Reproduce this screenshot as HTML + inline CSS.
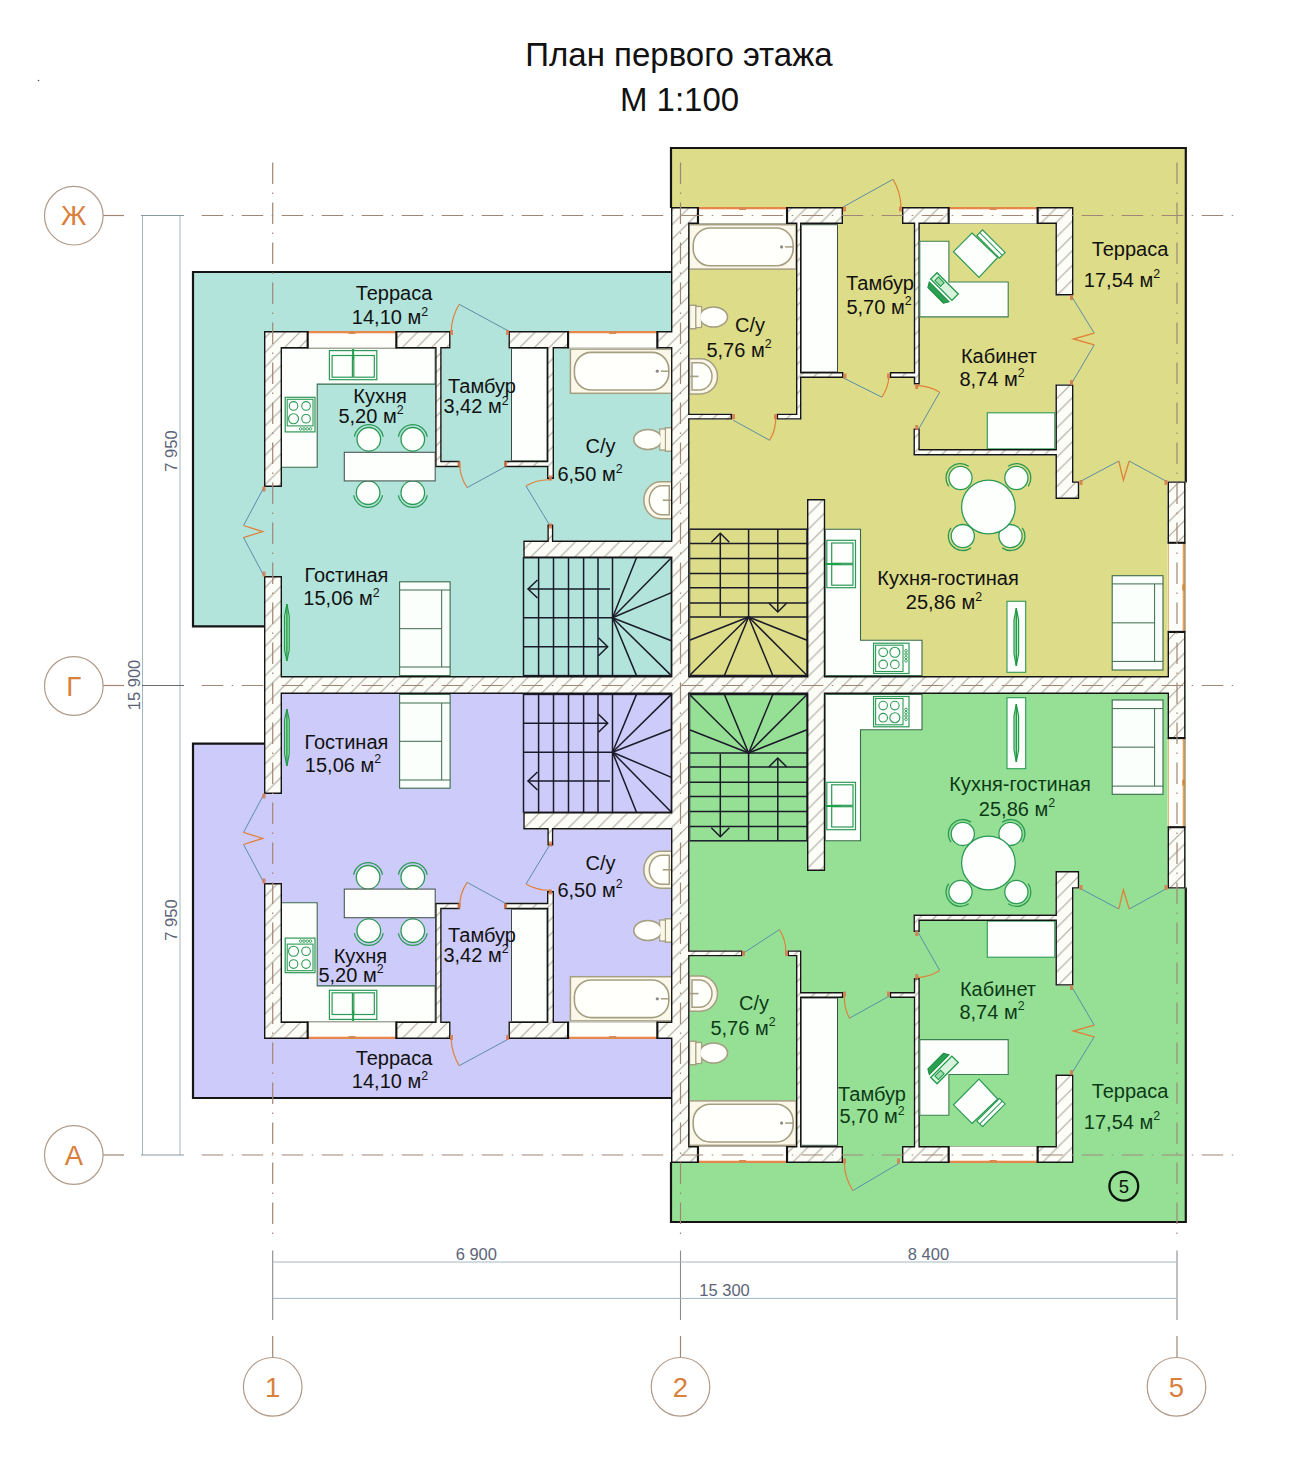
<!DOCTYPE html>
<html><head><meta charset="utf-8"><title>План первого этажа</title>
<style>
html,body{margin:0;padding:0;background:#fff;}
body{width:1289px;height:1461px;position:relative;overflow:hidden;font-family:"Liberation Sans",sans-serif;}
svg text{font-family:"Liberation Sans",sans-serif;}
</style></head><body>
<svg width="1289" height="1461" viewBox="0 0 1289 1461" style="position:absolute;left:0;top:0">
<defs>
<pattern id="hatch" patternUnits="userSpaceOnUse" width="14.7" height="14.7"><path d="M-2,16.7 L16.7,-2 M-2,2 L2,-2 M12.7,16.7 L16.7,12.7" stroke="#aaa69a" stroke-width="1.1" fill="none"/></pattern>
<clipPath id="wallclip"><rect x="264" y="331" width="18" height="156" /><rect x="264" y="576" width="18" height="110" /><rect x="264" y="331" width="44" height="17.5" /><rect x="396" y="331" width="54.5" height="17.5" /><rect x="508.5" y="331" width="59.9" height="17.5" /><rect x="657" y="331" width="15" height="17.5" /><rect x="435.2" y="348.5" width="6.4" height="118.7" /><rect x="435.2" y="460.8" width="24.5" height="6.4" /><rect x="504.5" y="460.8" width="49.5" height="6.4" /><rect x="547" y="348.5" width="7" height="130.5" /><rect x="547.4" y="524.5" width="5.9" height="16.5" /><rect x="523.3" y="540.5" width="148.7" height="17.5" /><rect x="671" y="207" width="18.5" height="479" /><rect x="264" y="676" width="921.5" height="10" /><rect x="671" y="207" width="27.3" height="17" /><rect x="786.7" y="207" width="56.3" height="17" /><rect x="902" y="207" width="47" height="17" /><rect x="1037.3" y="207" width="36.1" height="17" /><rect x="1055.5" y="207" width="17.9" height="88.5" /><rect x="1055.5" y="384.4" width="17.9" height="114.6" /><rect x="1055.5" y="481.4" width="23.7" height="17.6" /><rect x="1167.6" y="481.4" width="17.9" height="61.7" /><rect x="1167.6" y="631.6" width="17.9" height="54.4" /><rect x="796" y="224" width="5.4" height="195.6" /><rect x="801.2" y="372" width="42.2" height="6" /><rect x="889.8" y="372" width="30" height="6" /><rect x="913.5" y="449" width="142.5" height="6.4" /><rect x="807" y="499" width="18.2" height="187" /><rect x="264" y="883" width="18" height="156" /><rect x="264" y="684" width="18" height="110" /><rect x="264" y="1021.5" width="44" height="17.5" /><rect x="396" y="1021.5" width="54.5" height="17.5" /><rect x="508.5" y="1021.5" width="59.9" height="17.5" /><rect x="657" y="1021.5" width="15" height="17.5" /><rect x="435.2" y="902.8" width="6.4" height="118.7" /><rect x="435.2" y="902.8" width="24.5" height="6.4" /><rect x="504.5" y="902.8" width="49.5" height="6.4" /><rect x="547" y="891" width="7" height="130.5" /><rect x="547.4" y="829" width="5.9" height="16.5" /><rect x="523.3" y="812" width="148.7" height="17.5" /><rect x="671" y="684" width="18.5" height="479" /><rect x="264" y="684" width="921.5" height="10" /><rect x="671" y="1146" width="27.3" height="17" /><rect x="786.7" y="1146" width="56.3" height="17" /><rect x="902" y="1146" width="47" height="17" /><rect x="1037.3" y="1146" width="36.1" height="17" /><rect x="1055.5" y="1074.5" width="17.9" height="88.5" /><rect x="1055.5" y="871" width="17.9" height="114.6" /><rect x="1055.5" y="871" width="23.7" height="17.6" /><rect x="1167.6" y="826.9" width="17.9" height="61.7" /><rect x="1167.6" y="684" width="17.9" height="54.4" /><rect x="796" y="950.4" width="5.4" height="195.6" /><rect x="801.2" y="992" width="42.2" height="6" /><rect x="889.8" y="992" width="30" height="6" /><rect x="913.5" y="914.6" width="142.5" height="6.4" /><rect x="807" y="684" width="18.2" height="187" /><rect x="689" y="413.7" width="43.1" height="5.9" /><rect x="776.7" y="413.7" width="24.7" height="5.9" /><rect x="913.8" y="224" width="6" height="160.4" /><rect x="913.5" y="428.5" width="6.3" height="26.9" /><rect x="689" y="950.4" width="53.5" height="5.9" /><rect x="787.5" y="950.4" width="13.9" height="5.9" /><rect x="913.8" y="978.1" width="6" height="167.9" /><rect x="913.5" y="914.6" width="6.3" height="17.4" /></clipPath>
</defs>
<polygon points="193,272 671,272 671,686 264,686 264,626.4 193,626.4" fill="#b2e4db" />
<polygon points="193,1098 671,1098 671,684 264,684 264,743.6 193,743.6" fill="#cdcbfa" />
<polygon points="671,148 1185.8,148 1185.8,686 671,686" fill="#dddc88" />
<polygon points="671,1222 1185.8,1222 1185.8,684 671,684" fill="#96e096" />
<g stroke="#151515" stroke-width="2.2" fill="none" stroke-linecap="square">
<polyline points="264,626.4 193,626.4 193,272 671,272"/>
<polyline points="264,743.6 193,743.6 193,1098.0 671,1098.0"/>
<polyline points="671,207 671,148 1185.8,148 1185.8,481.4"/>
<polyline points="671,1163.0 671,1222.0 1185.8,1222.0 1185.8,888.6"/>
</g>
<g id="ft"><path d="M281.2,348.5 H435.2 V384.1 H317.2 V467.2 H281.2 Z" fill="#fdfffd" stroke="#3a6a4a" stroke-width="1.1"/>
<rect x="329.4" y="350.6" width="47.4" height="29.1" fill="#fdfffd" stroke="#2c9a55" stroke-width="1.2"/><rect x="332.1" y="355.5" width="20.3" height="21.7" fill="none" stroke="#2c9a55" stroke-width="1.2"/><rect x="353.8" y="355.5" width="20.5" height="21.7" fill="none" stroke="#2c9a55" stroke-width="1.2"/><line x1="353.1" y1="347.6" x2="353.1" y2="359.6" stroke="#1fa04a" stroke-width="2"/>
<rect x="285.2" y="397.3" width="29.8" height="34.6" fill="#fdfffd" stroke="#2c9a55" stroke-width="1.2"/><rect x="287.2" y="399.3" width="25.8" height="26.6" fill="none" stroke="#2c9a55" stroke-width="1.1"/><circle cx="293.544" cy="405.95" r="4.3" fill="none" stroke="#2c9a55" stroke-width="1.1"/><circle cx="306.06" cy="405.95" r="4.3" fill="none" stroke="#2c9a55" stroke-width="1.1"/><circle cx="293.544" cy="418.752" r="5" fill="none" stroke="#2c9a55" stroke-width="1.1"/><circle cx="306.06" cy="418.752" r="4.3" fill="none" stroke="#2c9a55" stroke-width="1.1"/><circle cx="300.696" cy="428.9" r="1.3" fill="none" stroke="#2c9a55" stroke-width="0.9"/><circle cx="303.996" cy="428.9" r="1.3" fill="none" stroke="#2c9a55" stroke-width="0.9"/><circle cx="307.296" cy="428.9" r="1.3" fill="none" stroke="#2c9a55" stroke-width="0.9"/><circle cx="310.596" cy="428.9" r="1.3" fill="none" stroke="#2c9a55" stroke-width="0.9"/>
<circle cx="368.8" cy="439.3" r="11.8" fill="#fdfffd" stroke="#2c9a55" stroke-width="1.3"/><path d="M354.42,436.76 A14.600000000000001,14.600000000000001 0 0 1 383.18,436.76" fill="none" stroke="#2c9a55" stroke-width="1.3"/>
<circle cx="412.8" cy="439.3" r="11.8" fill="#fdfffd" stroke="#2c9a55" stroke-width="1.3"/><path d="M398.42,436.76 A14.600000000000001,14.600000000000001 0 0 1 427.18,436.76" fill="none" stroke="#2c9a55" stroke-width="1.3"/>
<circle cx="368.1" cy="492.7" r="11.8" fill="#fdfffd" stroke="#2c9a55" stroke-width="1.3"/><path d="M382.48,495.24 A14.600000000000001,14.600000000000001 0 0 1 353.72,495.24" fill="none" stroke="#2c9a55" stroke-width="1.3"/>
<circle cx="412.8" cy="492.7" r="11.8" fill="#fdfffd" stroke="#2c9a55" stroke-width="1.3"/><path d="M427.18,495.24 A14.600000000000001,14.600000000000001 0 0 1 398.42,495.24" fill="none" stroke="#2c9a55" stroke-width="1.3"/>
<rect x="344.3" y="452.3" width="90.9" height="28.6" fill="#fdfffd" stroke="#4a5a55" stroke-width="1.1"/>
<rect x="511.5" y="348.5" width="35.5" height="112.3" fill="#fdfffd" stroke="#3a4a45" stroke-width="1"/>
<rect x="570.4" y="349.1" width="101.4" height="44.2" fill="#fbf8ea" stroke="#a59e80" stroke-width="1.5"/><rect x="574.4" y="352.4" width="94.4" height="37.6" rx="16.8" fill="#fffffb" stroke="#a59e80" stroke-width="1.6"/><circle cx="657.3" cy="371.2" r="1.6" fill="#8a8a8a"/><line x1="660.8" y1="371.2" x2="668.8" y2="371.2" stroke="#a59e80" stroke-width="1.5"/>
<rect x="665.3" y="427.8" width="6.5" height="23.4" fill="#fbf8ea" stroke="#a59e80" stroke-width="1.4"/><rect x="659.8" y="429" width="5.5" height="21" fill="#fbf8ea" stroke="#a59e80" stroke-width="1.3"/><ellipse cx="647.8" cy="439.5" rx="14" ry="10" fill="#fffffb" stroke="#a59e80" stroke-width="1.6"/><rect x="660.5" y="430" width="4.1" height="19" fill="#fbf8ea" stroke="none"/>
<path d="M671.8,481.7 L660.8,481.7 A17,18.55 0 0 0 660.8,518.8 L671.8,518.8 Z" fill="#fbf8ea" stroke="#a59e80" stroke-width="1.5"/><path d="M669.3,485.7 L661.8,485.7 A12.5,14.55 0 0 0 661.8,514.8 L669.3,514.8 Z" fill="#fffffb" stroke="#a59e80" stroke-width="1.5"/><line x1="671.8" y1="500.25" x2="662.8" y2="500.25" stroke="#a59e80" stroke-width="1.6"/>
<rect x="399.6" y="581.8" width="50.5" height="93.8" fill="#fbfffb" stroke="#3a6a4a" stroke-width="1.1"/><line x1="441.7" y1="590" x2="441.7" y2="667" stroke="#3a6a4a" stroke-width="1"/><line x1="399.6" y1="590" x2="450.1" y2="590" stroke="#3a6a4a" stroke-width="1"/><line x1="399.6" y1="667" x2="450.1" y2="667" stroke="#3a6a4a" stroke-width="1"/><line x1="399.6" y1="628.7" x2="441.7" y2="628.7" stroke="#3a6a4a" stroke-width="1"/>
<path d="M286.9,604 L289.2,616 L289.2,650 L286.9,661 L284.6,650 L284.6,616 Z" fill="#bfe9c9" stroke="#1f9a45" stroke-width="1.2"/>
<line x1="286.9" y1="604" x2="286.9" y2="661" stroke="#1f9a45" stroke-width="1.4"/>
<g stroke="#1a1a28" stroke-width="1.5" fill="none"><rect x="523.5" y="557.7" width="147.9" height="117.9" /><line x1="538.6" y1="557.7" x2="538.6" y2="675.6" /><line x1="553.5" y1="557.7" x2="553.5" y2="675.6" /><line x1="568.5" y1="557.7" x2="568.5" y2="675.6" /><line x1="583.6" y1="557.7" x2="583.6" y2="675.6" /><line x1="598" y1="557.7" x2="598" y2="675.6" /><line x1="612.5" y1="557.7" x2="612.5" y2="675.6" /><line x1="523.5" y1="617.8" x2="612.5" y2="617.8" /><line x1="612.5" y1="617.8" x2="636.5" y2="557.7" /><line x1="612.5" y1="617.8" x2="671.4" y2="557.7" /><line x1="612.5" y1="617.8" x2="671.4" y2="592.6" /><line x1="612.5" y1="617.8" x2="671.4" y2="640.7" /><line x1="612.5" y1="617.8" x2="671.4" y2="675.6" /><line x1="612.5" y1="617.8" x2="636.5" y2="675.6" /><line x1="528" y1="589" x2="610" y2="589" /><polyline points="537.5,580 528,589 537.5,598"/><line x1="523.5" y1="646.7" x2="607.7" y2="646.7" /><polyline points="598.5,637.7 607.7,646.7 598.5,655.7"/></g>
<rect x="689.2" y="224.7" width="106.9" height="44.4" fill="#fbf8ea" stroke="#a59e80" stroke-width="1.5"/><rect x="693.2" y="228" width="99.9" height="37.8" rx="16.9" fill="#fffffb" stroke="#a59e80" stroke-width="1.6"/><circle cx="781.6" cy="246.9" r="1.6" fill="#8a8a8a"/><line x1="785.1" y1="246.9" x2="793.1" y2="246.9" stroke="#a59e80" stroke-width="1.5"/>
<rect x="801.2" y="224.7" width="36.3" height="147.3" fill="#fdfffd" stroke="#3a4a45" stroke-width="1"/>
<rect x="689.5" y="305.3" width="6.5" height="23.4" fill="#fbf8ea" stroke="#a59e80" stroke-width="1.4"/><rect x="696" y="306.5" width="5.5" height="21" fill="#fbf8ea" stroke="#a59e80" stroke-width="1.3"/><ellipse cx="713.5" cy="317" rx="14" ry="10" fill="#fffffb" stroke="#a59e80" stroke-width="1.6"/><rect x="696.7" y="307.5" width="4.1" height="19" fill="#fbf8ea" stroke="none"/>
<path d="M689.5,358.8 L700.5,358.8 A17,17.6 0 0 1 700.5,394 L689.5,394 Z" fill="#fbf8ea" stroke="#a59e80" stroke-width="1.5"/><path d="M692,362.8 L699.5,362.8 A12.5,13.6 0 0 1 699.5,390 L692,390 Z" fill="#fffffb" stroke="#a59e80" stroke-width="1.5"/><line x1="689.5" y1="376.4" x2="698.5" y2="376.4" stroke="#a59e80" stroke-width="1.6"/>
<rect x="987.3" y="412.8" width="67.5" height="36.1" fill="#fdfffd" stroke="#2c9a55" stroke-width="1.1"/>
<path d="M825.2,529.2 H860.5 V640.2 H922 V675.5 H825.2 Z" fill="#fdfffd" stroke="#3a6a4a" stroke-width="1.1"/>
<rect x="826.8" y="540.3" width="28.7" height="47.4" fill="#fdfffd" stroke="#2c9a55" stroke-width="1.2"/><rect x="831.7" y="543" width="21.3" height="20.3" fill="none" stroke="#2c9a55" stroke-width="1.2"/><rect x="831.7" y="564.7" width="21.3" height="20.5" fill="none" stroke="#2c9a55" stroke-width="1.2"/><line x1="824.8" y1="564" x2="840.8" y2="564" stroke="#1fa04a" stroke-width="2"/>
<rect x="873.6" y="643.2" width="35.4" height="30.3" fill="#fdfffd" stroke="#2c9a55" stroke-width="1.2"/><rect x="875.6" y="645.2" width="27.4" height="26.3" fill="none" stroke="#2c9a55" stroke-width="1.1"/><circle cx="883.158" cy="652.29" r="4.3" fill="none" stroke="#2c9a55" stroke-width="1.1"/><circle cx="894.84" cy="652.29" r="5" fill="none" stroke="#2c9a55" stroke-width="1.1"/><circle cx="883.158" cy="664.41" r="4.3" fill="none" stroke="#2c9a55" stroke-width="1.1"/><circle cx="894.84" cy="664.41" r="4.3" fill="none" stroke="#2c9a55" stroke-width="1.1"/><circle cx="906" cy="650.775" r="1.3" fill="none" stroke="#2c9a55" stroke-width="0.9"/><circle cx="906" cy="654.075" r="1.3" fill="none" stroke="#2c9a55" stroke-width="0.9"/><circle cx="906" cy="657.375" r="1.3" fill="none" stroke="#2c9a55" stroke-width="0.9"/><circle cx="906" cy="660.675" r="1.3" fill="none" stroke="#2c9a55" stroke-width="0.9"/>
<circle cx="960.5" cy="478" r="11.6" fill="#fdfffd" stroke="#2c9a55" stroke-width="1.3"/><path d="M948.70,486.26 A14.399999999999999,14.399999999999999 0 0 1 968.76,466.20" fill="none" stroke="#2c9a55" stroke-width="1.3"/>
<circle cx="1016.4" cy="478" r="11.6" fill="#fdfffd" stroke="#2c9a55" stroke-width="1.3"/><path d="M1008.14,466.20 A14.399999999999999,14.399999999999999 0 0 1 1028.20,486.26" fill="none" stroke="#2c9a55" stroke-width="1.3"/>
<circle cx="962.8" cy="536.1" r="11.6" fill="#fdfffd" stroke="#2c9a55" stroke-width="1.3"/><path d="M971.06,547.90 A14.399999999999999,14.399999999999999 0 0 1 951.00,527.84" fill="none" stroke="#2c9a55" stroke-width="1.3"/>
<circle cx="1010.5" cy="536.1" r="11.6" fill="#fdfffd" stroke="#2c9a55" stroke-width="1.3"/><path d="M1022.30,527.84 A14.399999999999999,14.399999999999999 0 0 1 1002.24,547.90" fill="none" stroke="#2c9a55" stroke-width="1.3"/>
<circle cx="988.4" cy="507" r="26.8" fill="#fdfffd" stroke="#2c9a55" stroke-width="1.3"/>
<rect x="1007" y="601.3" width="18.7" height="71" fill="#fdfffd" stroke="#2c9a55" stroke-width="1.1"/>
<path d="M1016.3,608 L1018.6,620 L1018.6,654 L1016.3,666 L1014,654 L1014,620 Z" fill="#bfe9c9" stroke="#1f9a45" stroke-width="1.2"/>
<line x1="1016.3" y1="608" x2="1016.3" y2="666" stroke="#1f9a45" stroke-width="1.4"/>
<rect x="1112.2" y="575.7" width="50.8" height="94.3" fill="#fbfffb" stroke="#3a6a4a" stroke-width="1.1"/><line x1="1154.6" y1="583.9" x2="1154.6" y2="661.4" stroke="#3a6a4a" stroke-width="1"/><line x1="1112.2" y1="583.9" x2="1163" y2="583.9" stroke="#3a6a4a" stroke-width="1"/><line x1="1112.2" y1="661.4" x2="1163" y2="661.4" stroke="#3a6a4a" stroke-width="1"/><line x1="1112.2" y1="622.85" x2="1154.6" y2="622.85" stroke="#3a6a4a" stroke-width="1"/>
<g stroke="#1a1a28" stroke-width="1.5" fill="none"><rect x="689.5" y="529.2" width="117.5" height="146.3" /><line x1="689.5" y1="543.4" x2="807" y2="543.4" /><line x1="689.5" y1="558.5" x2="807" y2="558.5" /><line x1="689.5" y1="573.6" x2="807" y2="573.6" /><line x1="689.5" y1="587.7" x2="807" y2="587.7" /><line x1="689.5" y1="602.9" x2="807" y2="602.9" /><line x1="689.5" y1="617" x2="807" y2="617" /><line x1="748.6" y1="529.2" x2="748.6" y2="617" /><line x1="748.6" y1="617" x2="689.5" y2="640.2" /><line x1="748.6" y1="617" x2="689.5" y2="675.5" /><line x1="748.6" y1="617" x2="724.4" y2="675.5" /><line x1="748.6" y1="617" x2="772.8" y2="675.5" /><line x1="748.6" y1="617" x2="807" y2="675.5" /><line x1="748.6" y1="617" x2="807" y2="640.2" /><line x1="720.3" y1="616" x2="720.3" y2="533.3" /><polyline points="711.3,542.3 720.3,533.3 729.3,542.3"/><line x1="777.8" y1="529.2" x2="777.8" y2="612" /><polyline points="768.8,603 777.8,612 786.8,603"/></g></g>
<use href="#ft" transform="matrix(1 0 0 -1 0 1370)"/>
<path d="M504.50,467.20 L547.00,467.20 L547.00,479.00 L554.00,479.00 L554.00,467.20 L554.00,460.80 L554.00,348.50 L568.40,348.50 L568.40,331.00 L508.50,331.00 L508.50,348.50 L547.00,348.50 L547.00,460.80 L504.50,460.80 Z M264.00,331.00 L264.00,348.50 L264.00,487.00 L282.00,487.00 L282.00,348.50 L308.00,348.50 L308.00,331.00 L282.00,331.00 Z M435.20,460.80 L435.20,467.20 L441.60,467.20 L459.70,467.20 L459.70,460.80 L441.60,460.80 L441.60,348.50 L450.50,348.50 L450.50,331.00 L396.00,331.00 L396.00,348.50 L435.20,348.50 Z M671.00,558.00 L671.00,676.00 L282.00,676.00 L282.00,576.00 L264.00,576.00 L264.00,676.00 L264.00,684.00 L264.00,686.00 L264.00,694.00 L264.00,794.00 L282.00,794.00 L282.00,694.00 L671.00,694.00 L671.00,812.00 L523.30,812.00 L523.30,829.50 L547.40,829.50 L547.40,845.50 L553.30,845.50 L553.30,829.50 L671.00,829.50 L671.00,1021.50 L657.00,1021.50 L657.00,1039.00 L671.00,1039.00 L671.00,1146.00 L671.00,1163.00 L689.50,1163.00 L698.30,1163.00 L698.30,1146.00 L689.50,1146.00 L689.50,956.30 L742.50,956.30 L742.50,950.40 L689.50,950.40 L689.50,694.00 L807.00,694.00 L807.00,871.00 L825.20,871.00 L825.20,694.00 L1167.60,694.00 L1167.60,738.40 L1185.50,738.40 L1185.50,694.00 L1185.50,686.00 L1185.50,684.00 L1185.50,676.00 L1185.50,631.60 L1167.60,631.60 L1167.60,676.00 L825.20,676.00 L825.20,499.00 L807.00,499.00 L807.00,676.00 L689.50,676.00 L689.50,419.60 L732.10,419.60 L732.10,413.70 L689.50,413.70 L689.50,224.00 L698.30,224.00 L698.30,207.00 L689.50,207.00 L671.00,207.00 L671.00,224.00 L671.00,331.00 L657.00,331.00 L657.00,348.50 L671.00,348.50 L671.00,540.50 L553.30,540.50 L553.30,524.50 L547.40,524.50 L547.40,540.50 L523.30,540.50 L523.30,558.00 Z M435.20,902.80 L435.20,909.20 L435.20,1021.50 L396.00,1021.50 L396.00,1039.00 L450.50,1039.00 L450.50,1021.50 L441.60,1021.50 L441.60,909.20 L459.70,909.20 L459.70,902.80 L441.60,902.80 Z M504.50,909.20 L547.00,909.20 L547.00,1021.50 L508.50,1021.50 L508.50,1039.00 L568.40,1039.00 L568.40,1021.50 L554.00,1021.50 L554.00,909.20 L554.00,902.80 L554.00,891.00 L547.00,891.00 L547.00,902.80 L504.50,902.80 Z M282.00,1021.50 L282.00,883.00 L264.00,883.00 L264.00,1021.50 L264.00,1039.00 L282.00,1039.00 L308.00,1039.00 L308.00,1021.50 Z M786.70,224.00 L796.00,224.00 L796.00,413.70 L776.70,413.70 L776.70,419.60 L796.00,419.60 L801.40,419.60 L801.40,413.70 L801.40,378.00 L843.40,378.00 L843.40,372.00 L801.40,372.00 L801.40,224.00 L843.00,224.00 L843.00,207.00 L786.70,207.00 Z M889.80,378.00 L913.80,378.00 L913.80,384.40 L919.80,384.40 L919.80,378.00 L919.80,372.00 L919.80,224.00 L949.00,224.00 L949.00,207.00 L902.00,207.00 L902.00,224.00 L913.80,224.00 L913.80,372.00 L889.80,372.00 Z M787.50,950.40 L787.50,956.30 L796.00,956.30 L796.00,1146.00 L786.70,1146.00 L786.70,1163.00 L843.00,1163.00 L843.00,1146.00 L801.40,1146.00 L801.40,998.00 L843.40,998.00 L843.40,992.00 L801.40,992.00 L801.40,956.30 L801.40,950.40 L796.00,950.40 Z M889.80,998.00 L913.80,998.00 L913.80,1146.00 L902.00,1146.00 L902.00,1163.00 L949.00,1163.00 L949.00,1146.00 L919.80,1146.00 L919.80,998.00 L919.80,992.00 L919.80,978.10 L913.80,978.10 L913.80,992.00 L889.80,992.00 Z M1073.40,224.00 L1073.40,207.00 L1055.50,207.00 L1037.30,207.00 L1037.30,224.00 L1055.50,224.00 L1055.50,295.50 L1073.40,295.50 Z M913.50,449.00 L913.50,455.40 L919.80,455.40 L1055.50,455.40 L1055.50,481.40 L1055.50,499.00 L1073.40,499.00 L1079.20,499.00 L1079.20,481.40 L1073.40,481.40 L1073.40,384.40 L1055.50,384.40 L1055.50,449.00 L919.80,449.00 L919.80,428.50 L913.50,428.50 Z M1167.60,543.10 L1185.50,543.10 L1185.50,481.40 L1167.60,481.40 Z M1167.60,888.60 L1185.50,888.60 L1185.50,826.90 L1167.60,826.90 Z M913.50,921.00 L913.50,932.00 L919.80,932.00 L919.80,921.00 L1055.50,921.00 L1055.50,985.60 L1073.40,985.60 L1073.40,888.60 L1079.20,888.60 L1079.20,871.00 L1073.40,871.00 L1055.50,871.00 L1055.50,888.60 L1055.50,914.60 L919.80,914.60 L913.50,914.60 Z M1073.40,1163.00 L1073.40,1146.00 L1073.40,1074.50 L1055.50,1074.50 L1055.50,1146.00 L1037.30,1146.00 L1037.30,1163.00 L1055.50,1163.00 Z" fill="#fdfdf8" fill-rule="evenodd"/>
<rect x="0" y="0" width="1289" height="1461" fill="url(#hatch)" clip-path="url(#wallclip)"/>
<path d="M1168.30,887.90 L1184.80,887.90 L1184.80,827.60 L1168.30,827.60 Z M1168.30,542.40 L1184.80,542.40 L1184.80,482.10 L1168.30,482.10 Z M671.70,557.30 L671.70,676.70 L281.30,676.70 L281.30,576.70 L264.70,576.70 L264.70,793.30 L281.30,793.30 L281.30,693.30 L671.70,693.30 L671.70,812.70 L524.00,812.70 L524.00,828.80 L548.10,828.80 L548.10,844.80 L552.60,844.80 L552.60,828.80 L671.70,828.80 L671.70,1022.20 L657.70,1022.20 L657.70,1038.30 L671.70,1038.30 L671.70,1162.30 L697.60,1162.30 L697.60,1146.70 L688.80,1146.70 L688.80,955.60 L741.80,955.60 L741.80,951.10 L688.80,951.10 L688.80,693.30 L807.70,693.30 L807.70,870.30 L824.50,870.30 L824.50,693.30 L1168.30,693.30 L1168.30,737.70 L1184.80,737.70 L1184.80,632.30 L1168.30,632.30 L1168.30,676.70 L824.50,676.70 L824.50,499.70 L807.70,499.70 L807.70,676.70 L688.80,676.70 L688.80,418.90 L731.40,418.90 L731.40,414.40 L688.80,414.40 L688.80,223.30 L697.60,223.30 L697.60,207.70 L671.70,207.70 L671.70,331.70 L657.70,331.70 L657.70,347.80 L671.70,347.80 L671.70,541.20 L552.60,541.20 L552.60,525.20 L548.10,525.20 L548.10,541.20 L524.00,541.20 L524.00,557.30 Z M914.20,931.30 L919.10,931.30 L919.10,920.30 L1056.20,920.30 L1056.20,984.90 L1072.70,984.90 L1072.70,887.90 L1078.50,887.90 L1078.50,871.70 L1056.20,871.70 L1056.20,915.30 L914.20,915.30 Z M914.20,454.70 L1056.20,454.70 L1056.20,498.30 L1078.50,498.30 L1078.50,482.10 L1072.70,482.10 L1072.70,385.10 L1056.20,385.10 L1056.20,449.70 L919.10,449.70 L919.10,429.20 L914.20,429.20 Z M1072.70,1162.30 L1072.70,1075.20 L1056.20,1075.20 L1056.20,1146.70 L1038.00,1146.70 L1038.00,1162.30 Z M1072.70,207.70 L1038.00,207.70 L1038.00,223.30 L1056.20,223.30 L1056.20,294.80 L1072.70,294.80 Z M890.50,997.30 L914.50,997.30 L914.50,1146.70 L902.70,1146.70 L902.70,1162.30 L948.30,1162.30 L948.30,1146.70 L919.10,1146.70 L919.10,978.80 L914.50,978.80 L914.50,992.70 L890.50,992.70 Z M890.50,377.30 L914.50,377.30 L914.50,383.70 L919.10,383.70 L919.10,223.30 L948.30,223.30 L948.30,207.70 L902.70,207.70 L902.70,223.30 L914.50,223.30 L914.50,372.70 L890.50,372.70 Z M788.20,951.10 L788.20,955.60 L796.70,955.60 L796.70,1146.70 L787.40,1146.70 L787.40,1162.30 L842.30,1162.30 L842.30,1146.70 L800.70,1146.70 L800.70,997.30 L842.70,997.30 L842.70,992.70 L800.70,992.70 L800.70,951.10 Z M787.40,223.30 L796.70,223.30 L796.70,414.40 L777.40,414.40 L777.40,418.90 L800.70,418.90 L800.70,377.30 L842.70,377.30 L842.70,372.70 L800.70,372.70 L800.70,223.30 L842.30,223.30 L842.30,207.70 L787.40,207.70 Z M505.20,908.50 L547.70,908.50 L547.70,1022.20 L509.20,1022.20 L509.20,1038.30 L567.70,1038.30 L567.70,1022.20 L553.30,1022.20 L553.30,891.70 L547.70,891.70 L547.70,903.50 L505.20,903.50 Z M505.20,466.50 L547.70,466.50 L547.70,478.30 L553.30,478.30 L553.30,347.80 L567.70,347.80 L567.70,331.70 L509.20,331.70 L509.20,347.80 L547.70,347.80 L547.70,461.50 L505.20,461.50 Z M435.90,903.50 L435.90,1022.20 L396.70,1022.20 L396.70,1038.30 L449.80,1038.30 L449.80,1022.20 L440.90,1022.20 L440.90,908.50 L459.00,908.50 L459.00,903.50 Z M435.90,466.50 L459.00,466.50 L459.00,461.50 L440.90,461.50 L440.90,347.80 L449.80,347.80 L449.80,331.70 L396.70,331.70 L396.70,347.80 L435.90,347.80 Z M264.70,331.70 L264.70,486.30 L281.30,486.30 L281.30,347.80 L307.30,347.80 L307.30,331.70 Z M281.30,1022.20 L281.30,883.70 L264.70,883.70 L264.70,1038.30 L307.30,1038.30 L307.30,1022.20 Z" fill="none" stroke="#151515" stroke-width="1.4" stroke-linejoin="miter"/>
<rect x="308" y="331" width="88" height="17.5" fill="#fefefa"/>
<line x1="308" y1="332.2" x2="396" y2="332.2" stroke="#e8874a" stroke-width="2.2"/>
<line x1="308" y1="348.0" x2="396" y2="348.0" stroke="#9a9a8a" stroke-width="0.8"/>
<rect x="348.5" y="331" width="7" height="3" fill="#d88a50"/>
<line x1="308" y1="331" x2="308" y2="348.5" stroke="#151515" stroke-width="1.5"/>
<line x1="396" y1="331" x2="396" y2="348.5" stroke="#151515" stroke-width="1.5"/>
<rect x="568.4" y="331" width="88.6" height="17.5" fill="#fefefa"/>
<line x1="568.4" y1="332.2" x2="657" y2="332.2" stroke="#e8874a" stroke-width="2.2"/>
<line x1="568.4" y1="348.0" x2="657" y2="348.0" stroke="#9a9a8a" stroke-width="0.8"/>
<rect x="609.2" y="331" width="7" height="3" fill="#d88a50"/>
<line x1="568.4" y1="331" x2="568.4" y2="348.5" stroke="#151515" stroke-width="1.5"/>
<line x1="657" y1="331" x2="657" y2="348.5" stroke="#151515" stroke-width="1.5"/>
<rect x="698.3" y="207" width="88.4" height="17" fill="#fefefa"/>
<line x1="698.3" y1="208.2" x2="786.7" y2="208.2" stroke="#e8874a" stroke-width="2.2"/>
<line x1="698.3" y1="223.5" x2="786.7" y2="223.5" stroke="#9a9a8a" stroke-width="0.8"/>
<rect x="739" y="207" width="7" height="3" fill="#d88a50"/>
<line x1="698.3" y1="207" x2="698.3" y2="224" stroke="#151515" stroke-width="1.5"/>
<line x1="786.7" y1="207" x2="786.7" y2="224" stroke="#151515" stroke-width="1.5"/>
<rect x="949" y="207" width="88.3" height="17" fill="#fefefa"/>
<line x1="949" y1="208.2" x2="1037.3" y2="208.2" stroke="#e8874a" stroke-width="2.2"/>
<line x1="949" y1="223.5" x2="1037.3" y2="223.5" stroke="#9a9a8a" stroke-width="0.8"/>
<rect x="989.65" y="207" width="7" height="3" fill="#d88a50"/>
<line x1="949" y1="207" x2="949" y2="224" stroke="#151515" stroke-width="1.5"/>
<line x1="1037.3" y1="207" x2="1037.3" y2="224" stroke="#151515" stroke-width="1.5"/>
<rect x="1167.6" y="543.1" width="17.9" height="88.5" fill="#fefefa"/>
<line x1="1183.5" y1="543.1" x2="1183.5" y2="631.6" stroke="#e8a060" stroke-width="1.6"/>
<line x1="1184.9" y1="543.1" x2="1184.9" y2="631.6" stroke="#9a7a50" stroke-width="1.2"/>
<line x1="1168.3999999999999" y1="543.1" x2="1168.3999999999999" y2="631.6" stroke="#e0b070" stroke-width="1"/>
<rect x="1182.3" y="584.35" width="2.7" height="6" fill="#d08a40"/>
<line x1="1167.6" y1="543.1" x2="1185.5" y2="543.1" stroke="#151515" stroke-width="1.5"/>
<line x1="1167.6" y1="631.6" x2="1185.5" y2="631.6" stroke="#151515" stroke-width="1.5"/>


<rect x="308" y="1021.5" width="88" height="17.5" fill="#fefefa"/>
<line x1="308" y1="1037.8" x2="396" y2="1037.8" stroke="#e8874a" stroke-width="2.2"/>
<line x1="308" y1="1022.0" x2="396" y2="1022.0" stroke="#9a9a8a" stroke-width="0.8"/>
<rect x="348.5" y="1036" width="7" height="3" fill="#d88a50"/>
<line x1="308" y1="1021.5" x2="308" y2="1039.0" stroke="#151515" stroke-width="1.5"/>
<line x1="396" y1="1021.5" x2="396" y2="1039.0" stroke="#151515" stroke-width="1.5"/>
<rect x="568.4" y="1021.5" width="88.6" height="17.5" fill="#fefefa"/>
<line x1="568.4" y1="1037.8" x2="657" y2="1037.8" stroke="#e8874a" stroke-width="2.2"/>
<line x1="568.4" y1="1022.0" x2="657" y2="1022.0" stroke="#9a9a8a" stroke-width="0.8"/>
<rect x="609.2" y="1036" width="7" height="3" fill="#d88a50"/>
<line x1="568.4" y1="1021.5" x2="568.4" y2="1039.0" stroke="#151515" stroke-width="1.5"/>
<line x1="657" y1="1021.5" x2="657" y2="1039.0" stroke="#151515" stroke-width="1.5"/>
<rect x="698.3" y="1146" width="88.4" height="17" fill="#fefefa"/>
<line x1="698.3" y1="1161.8" x2="786.7" y2="1161.8" stroke="#e8874a" stroke-width="2.2"/>
<line x1="698.3" y1="1146.5" x2="786.7" y2="1146.5" stroke="#9a9a8a" stroke-width="0.8"/>
<rect x="739" y="1160" width="7" height="3" fill="#d88a50"/>
<line x1="698.3" y1="1146.0" x2="698.3" y2="1163.0" stroke="#151515" stroke-width="1.5"/>
<line x1="786.7" y1="1146.0" x2="786.7" y2="1163.0" stroke="#151515" stroke-width="1.5"/>
<rect x="949" y="1146" width="88.3" height="17" fill="#fefefa"/>
<line x1="949" y1="1161.8" x2="1037.3" y2="1161.8" stroke="#e8874a" stroke-width="2.2"/>
<line x1="949" y1="1146.5" x2="1037.3" y2="1146.5" stroke="#9a9a8a" stroke-width="0.8"/>
<rect x="989.65" y="1160" width="7" height="3" fill="#d88a50"/>
<line x1="949" y1="1146.0" x2="949" y2="1163.0" stroke="#151515" stroke-width="1.5"/>
<line x1="1037.3" y1="1146.0" x2="1037.3" y2="1163.0" stroke="#151515" stroke-width="1.5"/>
<rect x="1167.6" y="738.4" width="17.9" height="88.5" fill="#fefefa"/>
<line x1="1183.5" y1="738.4" x2="1183.5" y2="826.9" stroke="#e8a060" stroke-width="1.6"/>
<line x1="1184.9" y1="738.4" x2="1184.9" y2="826.9" stroke="#9a7a50" stroke-width="1.2"/>
<line x1="1168.3999999999999" y1="738.4" x2="1168.3999999999999" y2="826.9" stroke="#e0b070" stroke-width="1"/>
<rect x="1182.3" y="779.65" width="2.7" height="6" fill="#d08a40"/>
<line x1="1167.6" y1="738.4" x2="1185.5" y2="738.4" stroke="#151515" stroke-width="1.5"/>
<line x1="1167.6" y1="826.9" x2="1185.5" y2="826.9" stroke="#151515" stroke-width="1.5"/>


<g id="dt"><line x1="508.5" y1="331" x2="459.2" y2="304.3" stroke="#5a8ea8" stroke-width="1"/><path d="M459.2,304.3 A56.1,56.1 0 0 0 451.2,331" fill="none" stroke="#e0803a" stroke-width="1.2"/>
<line x1="504.5" y1="467.2" x2="467.2" y2="487.6" stroke="#5a8ea8" stroke-width="1"/><path d="M467.2,487.6 A42.5,42.5 0 0 1 459.7,463.5" fill="none" stroke="#e0803a" stroke-width="1.2"/>
<line x1="549" y1="524" x2="526" y2="486" stroke="#5a8ea8" stroke-width="1"/><path d="M526,486 A44.4,44.4 0 0 1 550.5,479.8" fill="none" stroke="#e0803a" stroke-width="1.2"/>
<line x1="264" y1="487.2" x2="243.5" y2="525.5" stroke="#5a8ea8" stroke-width="1"/><line x1="264" y1="576" x2="243.5" y2="537.6" stroke="#5a8ea8" stroke-width="1"/><polyline points="243.5,525.5 262.7,531.6 243.5,537.6" fill="none" stroke="#e0803a" stroke-width="1.3"/>
<rect x="450" y="330" width="3" height="5" fill="#d8784a" opacity="0.85"/>
<rect x="506" y="330" width="3" height="5" fill="#d8784a" opacity="0.85"/>
<rect x="457.5" y="461.5" width="3" height="5" fill="#d8784a" opacity="0.85"/>
<rect x="504" y="461.5" width="3" height="5" fill="#d8784a" opacity="0.85"/>
<rect x="549" y="475.5" width="3" height="5" fill="#d8784a" opacity="0.85"/>
<rect x="549" y="523.5" width="3" height="5" fill="#d8784a" opacity="0.85"/>
<rect x="262.5" y="486.5" width="3" height="5" fill="#d8784a" opacity="0.85"/>
<rect x="262.5" y="571.5" width="3" height="5" fill="#d8784a" opacity="0.85"/>
<line x1="1071" y1="295.5" x2="1094.3" y2="333.2" stroke="#5a8ea8" stroke-width="1"/><line x1="1071" y1="384.4" x2="1094.3" y2="344.8" stroke="#5a8ea8" stroke-width="1"/><polyline points="1094.3,333.2 1073.4,339 1094.3,344.8" fill="none" stroke="#e0803a" stroke-width="1.3"/>
<line x1="1080.4" y1="481.4" x2="1118.8" y2="461" stroke="#5a8ea8" stroke-width="1"/><line x1="1166.5" y1="481.4" x2="1129.2" y2="461" stroke="#5a8ea8" stroke-width="1"/><polyline points="1118.8,461 1123.4,480.3 1129.2,461" fill="none" stroke="#e0803a" stroke-width="1.3"/>
<rect x="1070" y="295" width="3" height="5" fill="#d8784a" opacity="0.85"/>
<rect x="1070" y="380" width="3" height="5" fill="#d8784a" opacity="0.85"/>
<rect x="1079.5" y="480" width="3" height="5" fill="#d8784a" opacity="0.85"/>
<rect x="1164.5" y="480" width="3" height="5" fill="#d8784a" opacity="0.85"/></g>
<path d="M919.8,241.2 H948.9 V282 H1008.2 V316.9 H919.8 Z" fill="#fdfffd" stroke="#3c7f50" stroke-width="1.1"/><polygon points="972,233 997.7,257.5 979,277.3 953.5,251.7" fill="#fdfffd" stroke="#2c9a55" stroke-width="1.2"/><g transform="rotate(45 991 244)"><rect x="975" y="240" width="32" height="8" fill="#fdfffd" stroke="#2c9a55" stroke-width="1.1"/><line x1="975" y1="244" x2="1007" y2="244" stroke="#2c9a55" stroke-width="1"/></g><g transform="rotate(45 942 289)"><rect x="927" y="281" width="30" height="9" fill="#d8f2de" stroke="#1f9a45" stroke-width="1.3"/><rect x="931" y="283" width="8" height="5" fill="#9fdcae" stroke="#1f9a45" stroke-width="1"/><path d="M928,293 L956,293 L953,298 L931,298 Z" fill="#2aa050" stroke="#1a8a40" stroke-width="1"/></g><line x1="843" y1="207" x2="893" y2="179.3" stroke="#5a8ea8" stroke-width="1"/><path d="M893,179.3 A57.2,57.2 0 0 1 901,207" fill="none" stroke="#e0803a" stroke-width="1.2"/><line x1="843.5" y1="378" x2="881.9" y2="397.2" stroke="#5a8ea8" stroke-width="1"/><path d="M881.9,397.2 A42.9,42.9 0 0 0 889,376" fill="none" stroke="#e0803a" stroke-width="1.2"/><rect x="843" y="206.5" width="3" height="5" fill="#d8784a" opacity="0.85"/><rect x="899" y="206.5" width="3" height="5" fill="#d8784a" opacity="0.85"/><rect x="843.5" y="373.5" width="3" height="5" fill="#d8784a" opacity="0.85"/><rect x="887" y="373.5" width="3" height="5" fill="#d8784a" opacity="0.85"/><line x1="733.2" y1="420.2" x2="769.6" y2="440.3" stroke="#5a8ea8" stroke-width="1"/><path d="M769.6,440.3 A41.6,41.6 0 0 0 775.6,415.5" fill="none" stroke="#e0803a" stroke-width="1.2"/><line x1="918.4" y1="429.5" x2="939.7" y2="392.2" stroke="#5a8ea8" stroke-width="1"/><path d="M939.7,392.2 A43.0,43.0 0 0 0 915.5,385.6" fill="none" stroke="#e0803a" stroke-width="1.2"/><rect x="732" y="414.1" width="3" height="5" fill="#d8784a" opacity="0.85"/><rect x="774" y="414.1" width="3" height="5" fill="#d8784a" opacity="0.85"/><rect x="915.2" y="384" width="3" height="5" fill="#d8784a" opacity="0.85"/><rect x="915.2" y="425" width="3" height="5" fill="#d8784a" opacity="0.85"/>
<g transform="matrix(1 0 0 -1 0 1356.5)"><path d="M919.8,241.2 H948.9 V282 H1008.2 V316.9 H919.8 Z" fill="#fdfffd" stroke="#3c7f50" stroke-width="1.1"/><polygon points="972,233 997.7,257.5 979,277.3 953.5,251.7" fill="#fdfffd" stroke="#2c9a55" stroke-width="1.2"/><g transform="rotate(45 991 244)"><rect x="975" y="240" width="32" height="8" fill="#fdfffd" stroke="#2c9a55" stroke-width="1.1"/><line x1="975" y1="244" x2="1007" y2="244" stroke="#2c9a55" stroke-width="1"/></g><g transform="rotate(45 942 289)"><rect x="927" y="281" width="30" height="9" fill="#d8f2de" stroke="#1f9a45" stroke-width="1.3"/><rect x="931" y="283" width="8" height="5" fill="#9fdcae" stroke="#1f9a45" stroke-width="1"/><path d="M928,293 L956,293 L953,298 L931,298 Z" fill="#2aa050" stroke="#1a8a40" stroke-width="1"/></g></g><line x1="899" y1="1163.3" x2="852.8" y2="1190.6" stroke="#5a8ea8" stroke-width="1"/><path d="M852.8,1190.6 A53.7,53.7 0 0 1 844.3,1163.3" fill="none" stroke="#e0803a" stroke-width="1.2"/><line x1="889.4" y1="996" x2="849.4" y2="1018.2" stroke="#5a8ea8" stroke-width="1"/><path d="M849.4,1018.2 A45.7,45.7 0 0 1 844.3,996" fill="none" stroke="#e0803a" stroke-width="1.2"/><rect x="843" y="1158.5" width="3" height="5" fill="#d8784a" opacity="0.85"/><rect x="897" y="1158.5" width="3" height="5" fill="#d8784a" opacity="0.85"/><rect x="843" y="991.5" width="3" height="5" fill="#d8784a" opacity="0.85"/><rect x="887" y="991.5" width="3" height="5" fill="#d8784a" opacity="0.85"/><line x1="743" y1="953.4" x2="779.4" y2="929.5" stroke="#5a8ea8" stroke-width="1"/><path d="M779.4,929.5 A43.5,43.5 0 0 1 786,952.4" fill="none" stroke="#e0803a" stroke-width="1.2"/><line x1="918.4" y1="932.9" x2="939.7" y2="970.4" stroke="#5a8ea8" stroke-width="1"/><path d="M939.7,970.4 A43.1,43.1 0 0 1 915.8,977.5" fill="none" stroke="#e0803a" stroke-width="1.2"/><rect x="742" y="950.9" width="3" height="5" fill="#d8784a" opacity="0.85"/><rect x="785" y="950.9" width="3" height="5" fill="#d8784a" opacity="0.85"/><rect x="915.2" y="931" width="3" height="5" fill="#d8784a" opacity="0.85"/><rect x="915.2" y="974" width="3" height="5" fill="#d8784a" opacity="0.85"/>
<use href="#dt" transform="matrix(1 0 0 -1 0 1370)"/>
<line x1="103" y1="215.5" x2="124" y2="215.5" stroke="#a08676" stroke-width="1.2"/>
<line x1="201.7" y1="215.5" x2="1240" y2="215.5" stroke="#a08676" stroke-width="1.2" stroke-dasharray="21.5,8.5,1.5,8.5"/>
<line x1="103" y1="685.5" x2="124" y2="685.5" stroke="#a08676" stroke-width="1.2"/>
<line x1="201.7" y1="685.5" x2="1240" y2="685.5" stroke="#a08676" stroke-width="1.2" stroke-dasharray="21.5,8.5,1.5,8.5"/>
<line x1="103" y1="1155" x2="124" y2="1155" stroke="#a08676" stroke-width="1.2"/>
<line x1="201.7" y1="1155" x2="1240" y2="1155" stroke="#a08676" stroke-width="1.2" stroke-dasharray="21.5,8.5,1.5,8.5"/>
<line x1="272.7" y1="162.4" x2="272.7" y2="1240" stroke="#a08676" stroke-width="1.2" stroke-dasharray="21.5,8.5,1.5,8.5"/>
<line x1="272.7" y1="1250.6" x2="272.7" y2="1320" stroke="#8a8a8a" stroke-width="1.1"/>
<line x1="272.7" y1="1336" x2="272.7" y2="1357.5" stroke="#a08676" stroke-width="1.2"/>
<line x1="680.5" y1="162.4" x2="680.5" y2="1240" stroke="#a08676" stroke-width="1.2" stroke-dasharray="21.5,8.5,1.5,8.5"/>
<line x1="680.5" y1="1250.6" x2="680.5" y2="1320" stroke="#8a8a8a" stroke-width="1.1"/>
<line x1="680.5" y1="1336" x2="680.5" y2="1357.5" stroke="#a08676" stroke-width="1.2"/>
<line x1="1177" y1="162.4" x2="1177" y2="1240" stroke="#a08676" stroke-width="1.2" stroke-dasharray="21.5,8.5,1.5,8.5"/>
<line x1="1177" y1="1250.6" x2="1177" y2="1320" stroke="#8a8a8a" stroke-width="1.1"/>
<line x1="1177" y1="1336" x2="1177" y2="1357.5" stroke="#a08676" stroke-width="1.2"/>
<circle cx="73.8" cy="215.7" r="29.3" fill="#fff" stroke="#b09a88" stroke-width="1.2"/>
<text x="73.8" y="225.4" font-size="27.5" fill="#d8803c" text-anchor="middle" >Ж</text>
<circle cx="73.8" cy="686" r="29.3" fill="#fff" stroke="#b09a88" stroke-width="1.2"/>
<text x="73.8" y="695.7" font-size="27.5" fill="#d8803c" text-anchor="middle" >Г</text>
<circle cx="73.8" cy="1155" r="29.3" fill="#fff" stroke="#b09a88" stroke-width="1.2"/>
<text x="73.8" y="1164.7" font-size="27.5" fill="#d8803c" text-anchor="middle" >А</text>
<circle cx="272.7" cy="1386.8" r="29.3" fill="#fff" stroke="#b09a88" stroke-width="1.2"/>
<text x="272.7" y="1396.5" font-size="27.5" fill="#d8803c" text-anchor="middle" >1</text>
<circle cx="680.5" cy="1386.8" r="29.3" fill="#fff" stroke="#b09a88" stroke-width="1.2"/>
<text x="680.5" y="1396.5" font-size="27.5" fill="#d8803c" text-anchor="middle" >2</text>
<circle cx="1176.5" cy="1386.8" r="29.3" fill="#fff" stroke="#b09a88" stroke-width="1.2"/>
<text x="1176.5" y="1396.5" font-size="27.5" fill="#d8803c" text-anchor="middle" >5</text>
<line x1="142.5" y1="215.5" x2="142.5" y2="1155" stroke="#a2b6c0" stroke-width="1"/>
<line x1="180" y1="215.5" x2="180" y2="1155" stroke="#a2b6c0" stroke-width="1"/>
<line x1="141" y1="215.5" x2="184" y2="215.5" stroke="#8a9aa4" stroke-width="1.1"/>
<line x1="141" y1="1155" x2="184" y2="1155" stroke="#8a9aa4" stroke-width="1.1"/>
<line x1="142" y1="685.5" x2="184" y2="685.5" stroke="#6a6a6a" stroke-width="1.1"/>
<text transform="translate(177.2,451) rotate(-90)" font-size="16.5" fill="#5c6478" text-anchor="middle">7 950</text>
<text transform="translate(177.2,920) rotate(-90)" font-size="16.5" fill="#5c6478" text-anchor="middle">7 950</text>
<text transform="translate(140.2,685) rotate(-90)" font-size="16.5" fill="#5c6478" text-anchor="middle">15 900</text>
<line x1="272.7" y1="1262" x2="1177" y2="1262" stroke="#a2b6c0" stroke-width="1"/>
<line x1="272.7" y1="1298.4" x2="1177" y2="1298.4" stroke="#a2b6c0" stroke-width="1"/>
<text x="476.3" y="1259.5" font-size="16.5" fill="#5c6478" text-anchor="middle" >6 900</text>
<text x="928.5" y="1259.5" font-size="16.5" fill="#5c6478" text-anchor="middle" >8 400</text>
<text x="724.5" y="1295.5" font-size="16.5" fill="#5c6478" text-anchor="middle" >15 300</text>
<circle cx="38.5" cy="80.5" r="0.8" fill="#555"/>
<text x="679" y="66" font-size="33" fill="#111" text-anchor="middle" >План первого этажа</text>
<text x="679.5" y="111" font-size="33" fill="#111" text-anchor="middle" >М 1:100</text>
<text x="394" y="300.2" font-size="20" fill="#111" text-anchor="middle" >Терраса</text>
<text x="390" y="324.1" font-size="20" fill="#111" text-anchor="middle">14,10 м<tspan font-size="12.4" dy="-8.4">2</tspan></text>
<text x="380" y="402.9" font-size="20" fill="#111" text-anchor="middle" >Кухня</text>
<text x="371" y="422.5" font-size="20" fill="#111" text-anchor="middle">5,20 м<tspan font-size="12.4" dy="-8.4">2</tspan></text>
<text x="482" y="393" font-size="20" fill="#111" text-anchor="middle" >Тамбур</text>
<text x="476" y="413" font-size="20" fill="#111" text-anchor="middle">3,42 м<tspan font-size="12.4" dy="-8.4">2</tspan></text>
<text x="600.5" y="453.2" font-size="20" fill="#111" text-anchor="middle" >С/у</text>
<text x="590" y="481.2" font-size="20" fill="#111" text-anchor="middle">6,50 м<tspan font-size="12.4" dy="-8.4">2</tspan></text>
<text x="346.4" y="582" font-size="20" fill="#111" text-anchor="middle" >Гостиная</text>
<text x="341.5" y="605" font-size="20" fill="#111" text-anchor="middle">15,06 м<tspan font-size="12.4" dy="-8.4">2</tspan></text>
<text x="880" y="289.5" font-size="20" fill="#111" text-anchor="middle" >Тамбур</text>
<text x="879" y="313.5" font-size="20" fill="#111" text-anchor="middle">5,70 м<tspan font-size="12.4" dy="-8.4">2</tspan></text>
<text x="750" y="331.5" font-size="20" fill="#111" text-anchor="middle" >С/у</text>
<text x="739" y="356.5" font-size="20" fill="#111" text-anchor="middle">5,76 м<tspan font-size="12.4" dy="-8.4">2</tspan></text>
<text x="1130" y="255.5" font-size="20" fill="#111" text-anchor="middle" >Терраса</text>
<text x="1122" y="286.5" font-size="20" fill="#111" text-anchor="middle">17,54 м<tspan font-size="12.4" dy="-8.4">2</tspan></text>
<text x="999" y="362.5" font-size="20" fill="#111" text-anchor="middle" >Кабинет</text>
<text x="992" y="385.5" font-size="20" fill="#111" text-anchor="middle">8,74 м<tspan font-size="12.4" dy="-8.4">2</tspan></text>
<text x="948" y="585" font-size="20" fill="#111" text-anchor="middle" >Кухня-гостиная</text>
<text x="944" y="609" font-size="20" fill="#111" text-anchor="middle">25,86 м<tspan font-size="12.4" dy="-8.4">2</tspan></text>
<text x="346.4" y="749" font-size="20" fill="#111" text-anchor="middle" >Гостиная</text>
<text x="343" y="771.5" font-size="20" fill="#111" text-anchor="middle">15,06 м<tspan font-size="12.4" dy="-8.4">2</tspan></text>
<text x="600.5" y="869.5" font-size="20" fill="#111" text-anchor="middle" >С/у</text>
<text x="590" y="896.5" font-size="20" fill="#111" text-anchor="middle">6,50 м<tspan font-size="12.4" dy="-8.4">2</tspan></text>
<text x="360.4" y="962.5" font-size="20" fill="#111" text-anchor="middle" >Кухня</text>
<text x="351" y="981.5" font-size="20" fill="#111" text-anchor="middle">5,20 м<tspan font-size="12.4" dy="-8.4">2</tspan></text>
<text x="482" y="941.5" font-size="20" fill="#111" text-anchor="middle" >Тамбур</text>
<text x="476" y="961.5" font-size="20" fill="#111" text-anchor="middle">3,42 м<tspan font-size="12.4" dy="-8.4">2</tspan></text>
<text x="394" y="1064.5" font-size="20" fill="#111" text-anchor="middle" >Терраса</text>
<text x="390" y="1088" font-size="20" fill="#111" text-anchor="middle">14,10 м<tspan font-size="12.4" dy="-8.4">2</tspan></text>
<text x="1020" y="790.5" font-size="20" fill="#0d3a16" text-anchor="middle" >Кухня-гостиная</text>
<text x="1017" y="815.5" font-size="20" fill="#0d3a16" text-anchor="middle">25,86 м<tspan font-size="12.4" dy="-8.4">2</tspan></text>
<text x="754" y="1009.5" font-size="20" fill="#0d3a16" text-anchor="middle" >С/у</text>
<text x="743" y="1034.5" font-size="20" fill="#0d3a16" text-anchor="middle">5,76 м<tspan font-size="12.4" dy="-8.4">2</tspan></text>
<text x="872" y="1100.5" font-size="20" fill="#0d3a16" text-anchor="middle" >Тамбур</text>
<text x="872" y="1123" font-size="20" fill="#0d3a16" text-anchor="middle">5,70 м<tspan font-size="12.4" dy="-8.4">2</tspan></text>
<text x="998" y="995.5" font-size="20" fill="#0d3a16" text-anchor="middle" >Кабинет</text>
<text x="992" y="1018.5" font-size="20" fill="#0d3a16" text-anchor="middle">8,74 м<tspan font-size="12.4" dy="-8.4">2</tspan></text>
<text x="1130" y="1097.5" font-size="20" fill="#0d3a16" text-anchor="middle" >Терраса</text>
<text x="1122" y="1128.5" font-size="20" fill="#0d3a16" text-anchor="middle">17,54 м<tspan font-size="12.4" dy="-8.4">2</tspan></text>
<circle cx="1123.8" cy="1186.2" r="14.4" fill="none" stroke="#0a140a" stroke-width="2.3"/>
<text x="1123.8" y="1192.8" font-size="18.5" fill="#0a140a" text-anchor="middle" >5</text>
</svg>
</body></html>
